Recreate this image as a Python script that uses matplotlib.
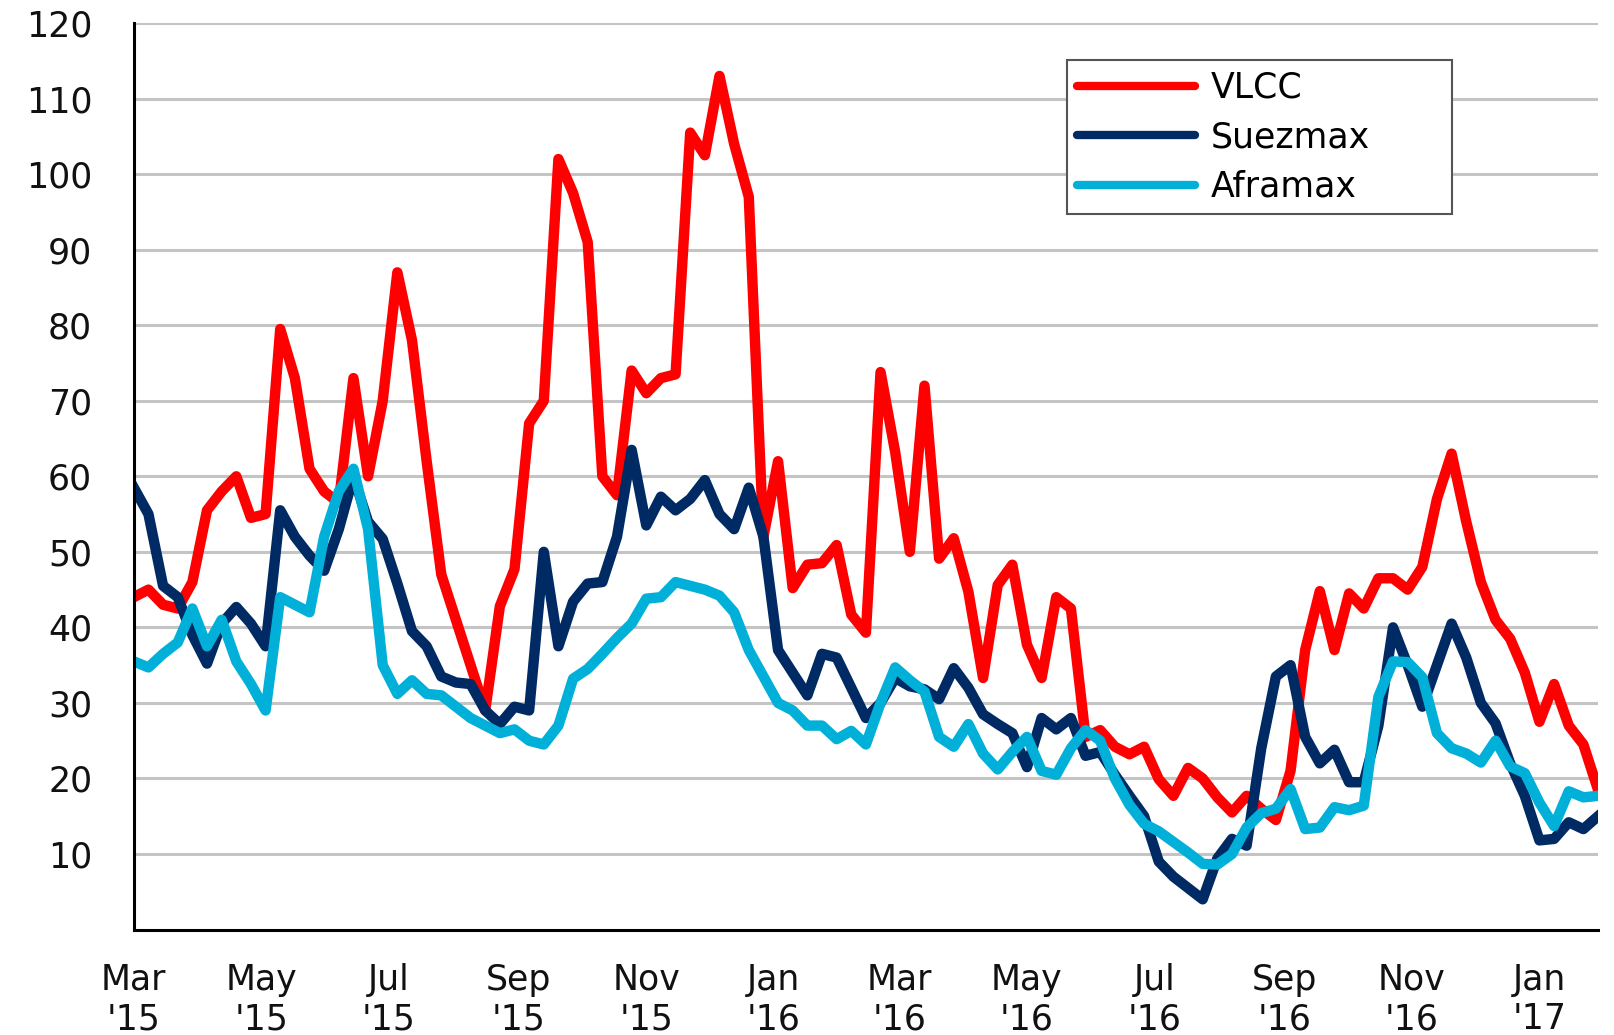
import pandas as pd
import matplotlib
matplotlib.use("Agg")
import matplotlib.pyplot as plt

# weekly spot earnings, Mar 2015 - Jan 2017
weeks = pd.date_range("2015-03-01", periods=101, freq="7D")

vlcc = [44, 45, 43, 42.5, 46, 55.5, 58, 60, 54.5, 55,
        79.5, 73, 61, 58, 56.5, 73, 60, 70, 87, 78,
        62, 47, 41, 35, 29, 42.8, 47.7, 67, 70, 102,
        97.5, 91, 60, 57.5, 74, 71, 73, 73.5, 105.5, 102.5,
        113, 104, 97, 52, 62, 45.2, 48.3, 48.5, 50.9, 41.7,
        39.3, 73.8, 63.2, 50, 72, 49.1, 51.8, 44.7, 33.3, 45.6,
        48.3, 37.7, 33.3, 44, 42.5, 25.5, 26.4, 24.2, 23.2, 24.2,
        19.9, 17.7, 21.4, 20, 17.5, 15.5, 17.7, 16, 14.5, 21,
        37, 44.8, 37, 44.5, 42.5, 46.5, 46.5, 45, 48, 57,
        63, 54, 46, 41, 38.5, 34, 27.5, 32.5, 27, 24.5,
        18.5]

suezmax = [58.5, 55, 45.5, 44, 39, 35.2, 40.5, 42.7, 40.5, 37.5,
           55.5, 52, 49.5, 47.5, 53, 60, 54, 51.7, 45.8, 39.5,
           37.5, 33.5, 32.7, 32.5, 29, 27.2, 29.5, 29, 50, 37.5,
           43.4, 45.8, 46, 52, 63.5, 53.5, 57.3, 55.5, 57, 59.5,
           55, 53, 58.5, 52, 37, 34, 31, 36.5, 36, 32,
           28, 30, 33.3, 32.2, 31.8, 30.5, 34.6, 32, 28.5, 27.2,
           26, 21.5, 28, 26.5, 28, 23, 23.5, 20.5, 17.7, 15,
           9, 7, 5.5, 4, 9.4, 12, 11.1, 24, 33.5, 35,
           25.5, 22, 23.8, 19.5, 19.5, 27, 40, 35, 29.5, 35,
           40.5, 36, 30, 27.3, 22, 17.7, 11.8, 12, 14.2, 13.3,
           15]

aframax = [35.5, 34.7, 36.5, 38, 42.5, 37.5, 41, 35.5, 32.5, 29,
           44, 43, 42, 52, 58, 61, 53, 35, 31.2, 33,
           31.2, 31, 29.5, 28, 27, 26, 26.5, 25, 24.5, 27,
           33.2, 34.5, 36.5, 38.6, 40.5, 43.8, 44, 46, 45.5, 45,
           44.2, 42, 37, 33.5, 30, 29, 27, 27, 25.2, 26.3,
           24.5, 30, 34.7, 33, 31.5, 25.5, 24.2, 27.2, 23.3, 21.2,
           23.5, 25.5, 21, 20.5, 24, 26.4, 25, 20, 16.5, 14,
           13, 11.6, 10.2, 8.7, 8.6, 10, 13.5, 15.4, 16, 18.6,
           13.3, 13.5, 16.2, 15.8, 16.4, 30.8, 35.5, 35.4, 33.4, 26,
           24, 23.3, 22.1, 25, 21.6, 20.7, 16.8, 13.7, 18.3, 17.5,
           17.7]

tick_dates = pd.date_range("2015-03-01", "2017-01-01", freq="2MS")
tick_labels = ["Mar\n'15", "May\n'15", "Jul\n'15", "Sep\n'15", "Nov\n'15",
               "Jan\n'16", "Mar\n'16", "May\n'16", "Jul\n'16", "Sep\n'16",
               "Nov\n'16", "Jan\n'17"]

fig = plt.figure(figsize=(16.14, 10.35), dpi=100)
ax = fig.add_axes([0.0829, 0.1019, 0.9072, 0.8758])

lw = 7.5
ax.plot(weeks, vlcc, color="#ff0000", lw=lw, solid_joinstyle="round", label="VLCC")
ax.plot(weeks, suezmax, color="#002a64", lw=lw, solid_joinstyle="round", label="Suezmax")
ax.plot(weeks, aframax, color="#00b0d8", lw=lw, solid_joinstyle="round", label="Aframax")

ax.set_ylim(0, 120)
ax.set_yticks(range(10, 121, 10))
ax.set_xlim(weeks[0], weeks[-1])
ax.set_xticks(tick_dates)
ax.set_xticklabels(tick_labels, linespacing=1.2)

ax.grid(axis="y", color="#c4c4c4", lw=2.2)
ax.set_axisbelow(True)
for s in ["top", "right"]:
    ax.spines[s].set_visible(False)
for s in ["left", "bottom"]:
    ax.spines[s].set_linewidth(2.2)
    ax.spines[s].set_color("black")

ax.tick_params(axis="both", length=0, labelsize=25, labelcolor="#111111")
ax.tick_params(axis="y", pad=30)
ax.tick_params(axis="x", pad=24)

leg = ax.legend(loc="upper left", bbox_to_anchor=(0.637, 0.959, 0.2636, 0.0),
                mode="expand", borderaxespad=0, fontsize=25,
                handlelength=3.4, labelspacing=0.45, borderpad=0.3,
                handletextpad=0.45, fancybox=False, framealpha=1,
                edgecolor="#555555")
leg.get_frame().set_linewidth(1.5)
for h in leg.get_lines():
    h.set_linewidth(6)
    h.set_solid_capstyle("round")

fig.savefig("out.png", dpi=100)
